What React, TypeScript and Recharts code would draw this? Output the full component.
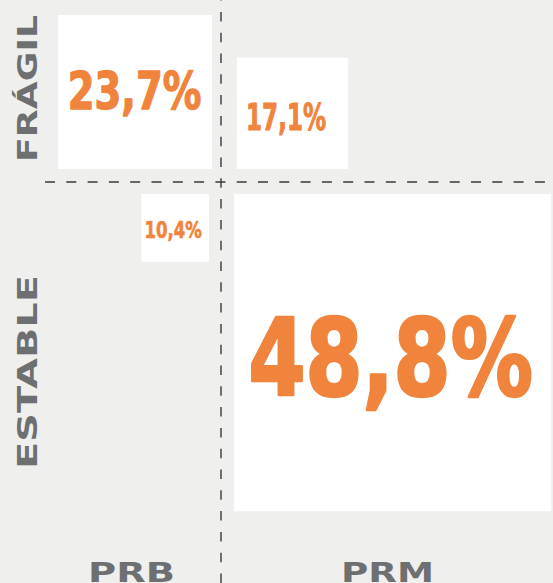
import React from 'react';
import { ScatterChart, Scatter, XAxis, YAxis, ReferenceLine, ReferenceArea } from 'recharts';

// quadrant order: top-left, top-right, bottom-left, bottom-right
const QUADRANTS = ['FRÁGIL · PRB', 'FRÁGIL · PRM', 'ESTABLE · PRB', 'ESTABLE · PRM'];
const SHARES = [23.7, 17.1, 10.4, 48.8];
const SHARE_LABELS = ['23,7%', '17,1%', '10,4%', '48,8%'];
const COLUMNS = ['PRB', 'PRM'];
const ROWS = ['FRÁGIL', 'ESTABLE'];

const W = 553;
const H = 583;
const PX = 6.5; // pixels per percentage point (square side = share)
const ORANGE = '#f0843c';
const GREY = '#6e6f71';
const BG = '#efefed';
const LINE = '#3a3a3a';

// layout: side of the cross, gap to the dashed lines, text width and nudge (px)
const SIDES = [
  { sx: -1, sy: 1, gx: 1.38, gy: 2.0, tw: 135, dx: -0.5, dy: -2 },
  { sx: 1, sy: 1, gx: 2.46, gy: 2.0, tw: 81, dx: -6.5, dy: 2.5 },
  { sx: -1, sy: -1, gx: 1.85, gy: 1.85, tw: 58, dx: -2, dy: 1.5 },
  { sx: 1, sy: -1, gx: 2.0, gy: 1.85, tw: 287, dx: -2, dy: 3 },
];

const X_DOMAIN = [-221 / PX, (W - 221) / PX];
const Y_DOMAIN = [-(H - 182) / PX, 182 / PX];

const boxes = SHARES.map((v, i) => {
  const s = SIDES[i];
  return {
    name: QUADRANTS[i],
    share: v,
    label: SHARE_LABELS[i],
    idx: i,
    x1: s.sx * s.gx,
    x2: s.sx * (s.gx + v),
    y1: s.sy * s.gy,
    y2: s.sy * (s.gy + v),
    x: s.sx * (s.gx + v / 2),
    y: s.sy * (s.gy + v / 2),
  };
});

const ShareText = (props: any) => {
  const { cx, cy, payload } = props;
  const s = SIDES[payload.idx];
  const cap = 1.6 * payload.share + 1;
  const fontSize = (cap - 1) / 0.729;
  return (
    <text
      x={cx + s.dx}
      y={cy + cap / 2 + s.dy - 0.5}
      textAnchor="middle"
      fill={ORANGE}
      stroke={ORANGE}
      strokeWidth={fontSize * 0.025}
      strokeLinejoin="round"
      fontSize={fontSize}
      fontWeight={700}
      textLength={s.tw - fontSize * 0.025}
      lengthAdjust="spacingAndGlyphs"
      fontFamily="'DejaVu Sans Condensed', 'Liberation Sans Narrow', sans-serif"
    >
      {payload.label}
    </text>
  );
};

const axisFont = {
  fill: GREY,
  fontSize: 27,
  fontWeight: 700,
  fontFamily: "'DejaVu Sans', Verdana, sans-serif",
};

export default function App() {
  return (
    <div style={{ position: 'absolute', left: 0, top: 0, width: W, height: H, background: BG, overflow: 'hidden' }}>
      <ScatterChart width={W} height={H} margin={{ top: 0, right: 0, bottom: 0, left: 0 }}>
        <XAxis type="number" dataKey="x" domain={X_DOMAIN} hide allowDataOverflow />
        <YAxis type="number" dataKey="y" domain={Y_DOMAIN} hide allowDataOverflow />
        {boxes.map((b) => (
          <ReferenceArea
            key={b.name}
            x1={Math.min(b.x1, b.x2)}
            x2={Math.max(b.x1, b.x2)}
            y1={Math.min(b.y1, b.y2)}
            y2={Math.max(b.y1, b.y2)}
            fill="#ffffff"
            fillOpacity={1}
            stroke="none"
            ifOverflow="visible"
          />
        ))}
        <ReferenceLine x={0} stroke={LINE} strokeWidth={1.4} strokeDasharray="9.5 11.3" />
        <ReferenceLine
          segment={[{ x: X_DOMAIN[0] + 45 / PX, y: 0 }, { x: X_DOMAIN[1], y: 0 }]}
          stroke={LINE}
          strokeWidth={1.4}
          strokeDasharray="10 11.3"
        />
        <Scatter data={boxes} dataKey="y" shape={<ShareText />} isAnimationActive={false} />
      </ScatterChart>
      <svg width={W} height={H} style={{ position: 'absolute', left: 0, top: 0, pointerEvents: 'none' }}>
        <text x={131.5} y={582} textAnchor="middle" textLength={87} lengthAdjust="spacingAndGlyphs" {...axisFont}>
          {COLUMNS[0]}
        </text>
        <text x={387.5} y={582} textAnchor="middle" textLength={93} lengthAdjust="spacingAndGlyphs" {...axisFont}>
          {COLUMNS[1]}
        </text>
        <text
          transform="translate(37 88.5) rotate(-90)"
          textAnchor="middle"
          textLength={147}
          lengthAdjust="spacingAndGlyphs"
          {...axisFont}
        >
          {ROWS[0]}
        </text>
        <text
          transform="translate(37 372) rotate(-90)"
          textAnchor="middle"
          textLength={194}
          lengthAdjust="spacingAndGlyphs"
          {...axisFont}
        >
          {ROWS[1]}
        </text>
      </svg>
    </div>
  );
}
